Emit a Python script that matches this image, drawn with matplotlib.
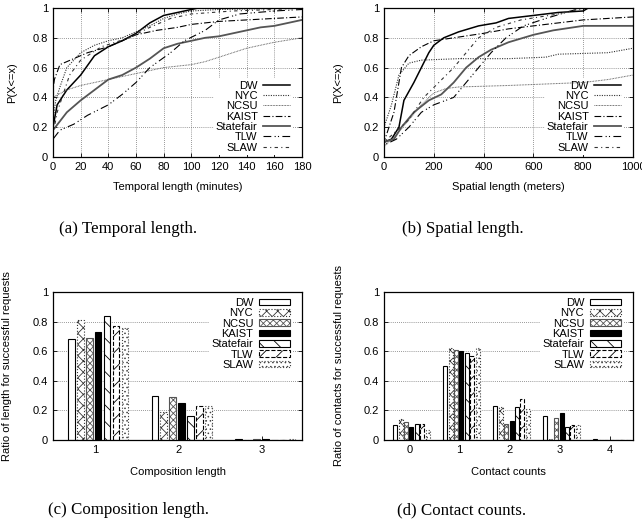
import numpy as np
import matplotlib
matplotlib.use("Agg")
import matplotlib.pyplot as plt

plt.rcParams['font.family'] = ['Liberation Sans', 'DejaVu Sans']
plt.rcParams['font.size'] = 8
plt.rcParams['hatch.linewidth'] = 0.6

names = ["DW", "NYC", "NCSU", "KAIST", "Statefair", "TLW", "SLAW"]

# (a) temporal length CDF, (minutes, P)
temporal = {
    "DW": ([0, 0, 3, 10, 20, 30, 40, 50, 60, 70, 80, 90, 100, 105, 180],
           [0, 0.2, 0.35, 0.45, 0.55, 0.68, 0.74, 0.78, 0.83, 0.9, 0.95, 0.97, 0.99, 1.0, 1.0]),
    "NYC": ([0, 0, 2, 5, 10, 20, 30, 40, 50, 60, 70, 80, 90, 100, 120, 180],
            [0, 0.25, 0.38, 0.47, 0.6, 0.7, 0.75, 0.78, 0.8, 0.84, 0.88, 0.93, 0.96, 0.98, 0.99, 1.0]),
    "NCSU": ([0, 0, 10, 20, 30, 40, 50, 60, 70, 80, 90, 100, 110, 120, 130, 140, 150, 160, 180],
             [0, 0.4, 0.45, 0.48, 0.5, 0.52, 0.54, 0.56, 0.58, 0.6, 0.61, 0.62, 0.64, 0.67, 0.7, 0.73, 0.75, 0.77, 0.8]),
    "KAIST": ([0, 0, 1, 5, 15, 25, 40, 50, 60, 75, 90, 100, 110, 120, 140, 160, 180],
              [0, 0.45, 0.52, 0.62, 0.66, 0.7, 0.74, 0.78, 0.82, 0.85, 0.87, 0.89, 0.9, 0.91, 0.92, 0.93, 0.94]),
    "Statefair": ([0, 0, 10, 20, 30, 40, 50, 60, 70, 80, 90, 100, 110, 120, 130, 140, 150, 160, 170, 180],
                  [0, 0.18, 0.3, 0.38, 0.45, 0.52, 0.55, 0.6, 0.66, 0.73, 0.76, 0.78, 0.8, 0.81, 0.83, 0.85, 0.87, 0.88, 0.9, 0.92]),
    "TLW": ([0, 0, 5, 15, 25, 40, 50, 60, 70, 85, 95, 110, 120, 135, 160, 180],
            [0, 0.12, 0.18, 0.22, 0.28, 0.35, 0.42, 0.5, 0.6, 0.7, 0.78, 0.85, 0.92, 0.96, 0.98, 0.99]),
    "SLAW": ([0, 0, 3, 12, 20, 35, 55, 70, 85, 100, 130, 160, 180],
             [0, 0.15, 0.3, 0.55, 0.65, 0.74, 0.8, 0.87, 0.93, 0.96, 0.98, 0.99, 1.0]),
}

# (b) spatial length CDF, (meters, P)
spatial = {
    "DW": ([0, 0, 30, 60, 80, 120, 150, 180, 200, 240, 300, 380, 450, 500, 600, 700, 800, 820, 1000],
           [0, 0.1, 0.12, 0.2, 0.38, 0.5, 0.6, 0.7, 0.75, 0.8, 0.84, 0.88, 0.9, 0.93, 0.95, 0.97, 0.98, 1.0, 1.0]),
    "NYC": ([0, 0, 30, 60, 100, 150, 300, 500, 650, 700, 900, 1000],
            [0, 0.2, 0.35, 0.55, 0.63, 0.65, 0.66, 0.66, 0.67, 0.69, 0.7, 0.73]),
    "NCSU": ([0, 0, 50, 100, 150, 200, 250, 300, 500, 800, 900, 1000],
             [0, 0.07, 0.15, 0.25, 0.35, 0.43, 0.46, 0.47, 0.48, 0.5, 0.52, 0.55]),
    "KAIST": ([0, 0, 40, 70, 100, 150, 200, 280, 400, 500, 600, 700, 800, 1000],
              [0, 0.1, 0.3, 0.6, 0.68, 0.74, 0.78, 0.8, 0.83, 0.86, 0.88, 0.9, 0.92, 0.94]),
    "Statefair": ([0, 0, 40, 70, 120, 180, 230, 280, 330, 380, 430, 500, 560, 600, 680, 800, 1000],
                  [0, 0.1, 0.12, 0.2, 0.3, 0.38, 0.42, 0.5, 0.6, 0.67, 0.72, 0.77, 0.8, 0.82, 0.85, 0.88, 0.88]),
    "TLW": ([0, 0, 50, 100, 150, 200, 280, 330, 380, 430, 490, 560, 650, 750, 800, 1000],
            [0, 0.08, 0.12, 0.2, 0.3, 0.35, 0.4, 0.5, 0.6, 0.7, 0.8, 0.88, 0.93, 0.98, 1.0, 1.0]),
    "SLAW": ([0, 0, 100, 160, 220, 280, 330, 380, 450, 550, 700, 800, 1000],
             [0, 0.1, 0.25, 0.4, 0.5, 0.6, 0.7, 0.8, 0.87, 0.92, 0.96, 1.0, 1.0]),
}

# (c) composition length ratios
comp_cats = [1, 2, 3]
comp_vals = {
    "DW": [0.68, 0.30, 0.01],
    "NYC": [0.81, 0.19, 0.0],
    "NCSU": [0.69, 0.29, 0.01],
    "KAIST": [0.73, 0.25, 0.01],
    "Statefair": [0.84, 0.16, 0.0],
    "TLW": [0.77, 0.23, 0.0],
    "SLAW": [0.76, 0.23, 0.005],
}

# (d) contact count ratios
cont_cats = [0, 1, 2, 3, 4]
cont_vals = {
    "DW": [0.10, 0.50, 0.23, 0.16, 0.01],
    "NYC": [0.14, 0.62, 0.22, 0.01, 0.0],
    "NCSU": [0.12, 0.61, 0.11, 0.15, 0.0],
    "KAIST": [0.09, 0.60, 0.13, 0.18, 0.0],
    "Statefair": [0.11, 0.59, 0.22, 0.09, 0.0],
    "TLW": [0.11, 0.57, 0.28, 0.10, 0.0],
    "SLAW": [0.07, 0.62, 0.21, 0.10, 0.002],
}

line_styles = {
    "DW": dict(color="black", lw=1.1, ls="-"),
    "NYC": dict(color="#333333", lw=0.8, ls=(0, (1, 1.2))),
    "NCSU": dict(color="#555555", lw=0.7, ls=(0, (0.8, 0.8))),
    "KAIST": dict(color="black", lw=0.8, ls=(0, (6, 2, 1, 2))),
    "Statefair": dict(color="#555555", lw=1.3, ls="-"),
    "TLW": dict(color="black", lw=0.8, ls=(0, (7, 3, 1, 2, 1, 3))),
    "SLAW": dict(color="#333333", lw=0.8, ls=(0, (3, 3, 1, 3))),
}

bar_styles = {
    "DW": dict(facecolor="white", edgecolor="black", hatch=None, ls="-"),
    "NYC": dict(facecolor="white", edgecolor="#333333", hatch="xxx", ls=":"),
    "NCSU": dict(facecolor="white", edgecolor="#555555", hatch="xxxxx", ls="-"),
    "KAIST": dict(facecolor="black", edgecolor="black", hatch=None, ls="-"),
    "Statefair": dict(facecolor="white", edgecolor="black", hatch="\\\\", ls="-"),
    "TLW": dict(facecolor="white", edgecolor="black", hatch="//", ls="--"),
    "SLAW": dict(facecolor="white", edgecolor="#444444", hatch="....", ls=":"),
}


def style_axes(ax):
    ax.set_axisbelow(True)
    ax.tick_params(direction="in", top=True, right=True, length=3, width=0.6, labelsize=8)
    for s in ax.spines.values():
        s.set_linewidth(0.9)


def add_legend(ax, loc, anchor, **kw):
    leg = ax.legend(loc=loc, bbox_to_anchor=anchor, frameon=True, markerfirst=False,
                    fontsize=8, labelspacing=0.03, handletextpad=0.5, borderpad=0.2,
                    borderaxespad=0.0, **kw)
    leg.get_frame().set_edgecolor("none")
    leg.get_frame().set_facecolor("white")
    leg.get_frame().set_alpha(1)
    leg.set_zorder(1.5)
    return leg


fig = plt.figure(figsize=(6.42, 5.27), dpi=100)
W, H = 642, 527


def make_axes(left, top, right, bottom):
    return fig.add_axes([left / W, 1 - bottom / H, (right - left) / W, (bottom - top) / H])


ax_a = make_axes(53, 8, 302, 157)
ax_b = make_axes(384, 8, 633, 157)
ax_c = make_axes(53, 292, 302, 440)
ax_d = make_axes(384, 292, 633, 440)

# CDF panels
for ax, data, xmax, xstep, xlabel in [
    (ax_a, temporal, 180, 20, "Temporal length (minutes)"),
    (ax_b, spatial, 1000, 200, "Spatial length (meters)"),
]:
    style_axes(ax)
    for n in names:
        x, y = data[n]
        ax.plot(x, y, label=n, zorder=2, **line_styles[n])
    ax.set_xlim(0, xmax)
    ax.set_ylim(0, 1)
    ax.set_xticks(np.arange(0, xmax + 1, xstep))
    ax.set_yticks([0, 0.2, 0.4, 0.6, 0.8, 1])
    ax.set_yticklabels(["0", "0.2", "0.4", "0.6", "0.8", "1"])
    ax.grid(True, color="#777777", ls=(0, (1, 1.5)), lw=0.6)
    ax.set_xlabel(xlabel, fontsize=8)
    ax.set_ylabel("P(X<=x)", fontsize=8)
    ax.xaxis.set_label_coords(0.5, -0.17)
    add_legend(ax, "lower right", (0.96, 0.015), handlelength=2.4)

ax_a.yaxis.set_label_coords(-0.145, 0.5)
ax_b.yaxis.set_label_coords(-0.165, 0.5)

# bar panels
bw = 0.08
step = 0.107
for ax, cats, vals, xlim, xlabel, ylabel in [
    (ax_c, comp_cats, comp_vals, (0.5, 3.48), "Composition length",
     "Ratio of length for successful requests"),
    (ax_d, cont_cats, cont_vals, (-0.51, 4.47), "Contact counts",
     "Ratio of contacts for successful requests"),
]:
    style_axes(ax)
    ax.tick_params(axis="x", top=False)
    cats = np.array(cats, dtype=float)
    for i, n in enumerate(names):
        st = bar_styles[n]
        ax.bar(cats + (i - 3) * step + 0.04, vals[n], width=bw, label=n,
               facecolor=st["facecolor"], edgecolor=st["edgecolor"],
               hatch=st["hatch"], linestyle=st["ls"], linewidth=0.8, zorder=2)
    ax.set_xlim(*xlim)
    ax.set_ylim(0, 1)
    ax.set_xticks(cats)
    ax.set_xticklabels([str(int(c)) for c in cats])
    ax.set_yticks([0, 0.2, 0.4, 0.6, 0.8, 1])
    ax.set_yticklabels(["0", "0.2", "0.4", "0.6", "0.8", "1"])
    ax.yaxis.grid(True, color="#777777", ls=(0, (1, 1.5)), lw=0.6)
    ax.set_xlabel(xlabel, fontsize=8)
    ax.set_ylabel(ylabel, fontsize=8)
    ax.xaxis.set_label_coords(0.5, -0.18)
    add_legend(ax, "upper right", (0.96, 0.975), handlelength=2.8, handleheight=0.55)

ax_c.yaxis.set_label_coords(-0.165, 0.5)
ax_d.yaxis.set_label_coords(-0.16, 0.5)

cap_font = dict(family=["Liberation Serif", "DejaVu Serif"], fontsize=12.2, ha="center", va="center")
fig.text(128 / W, 1 - 229 / H, "(a) Temporal length.", **cap_font)
fig.text(463 / W, 1 - 229 / H, "(b) Spatial length.", **cap_font)
fig.text(128 / W, 1 - 510 / H, "(c) Composition length.", **cap_font)
fig.text(462 / W, 1 - 510 / H, "(d) Contact counts.", **cap_font)

fig.savefig("out.png", dpi=100)
